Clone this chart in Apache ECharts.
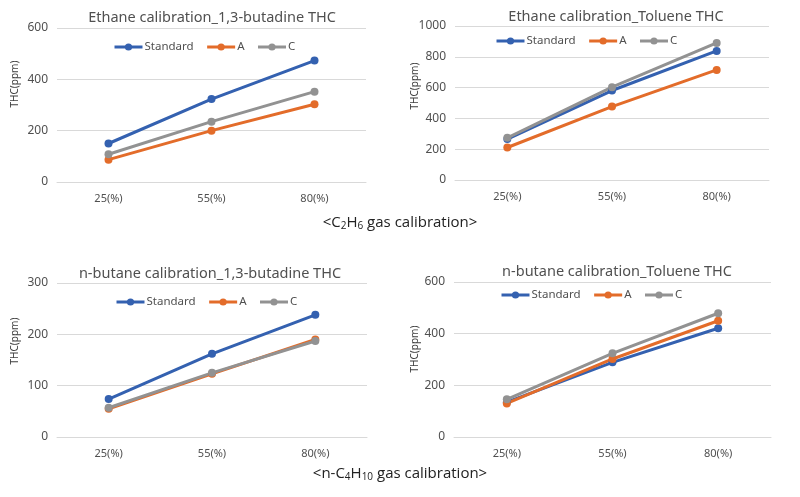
<!DOCTYPE html>
<html>
<head>
<meta charset="utf-8">
<script src="https://cdn.jsdelivr.net/npm/echarts@6/dist/echarts.min.js"></script>
<style>
  html, body { margin: 0; padding: 0; background: #fff; }
  #chart { width: 800px; height: 497px; }
</style>
</head>
<body>
<div id="chart"></div>
<script>
const categories = ['25(%)', '55(%)', '80(%)'];
const seriesNames = ['Standard', 'A', 'C'];
const colors = ['#3461B0', '#E36C2A', '#929292'];

// Ethane calibration
const ethButStd = [150, 323, 473];
const ethButA = [87, 200, 303];
const ethButC = [108, 235, 352];
const ethTolStd = [266, 581, 838];
const ethTolA = [211, 477, 715];
const ethTolC = [274, 603, 890];
// n-butane calibration
const butButStd = [74, 162, 238];
const butButA = [55, 123, 190];
const butButC = [57, 125, 187];
const butTolStd = [135, 289, 421];
const butTolA = [130, 302, 450];
const butTolC = [146, 324, 479];

const titles = [
  'Ethane calibration_1,3-butadine THC',
  'Ethane calibration_Toluene THC',
  'n-butane calibration_1,3-butadine THC',
  'n-butane calibration_Toluene THC'
];
const yMax = [600, 1000, 300, 600];
const yStep = [200, 200, 100, 200];
const panelData = [
  [ethButStd, ethButA, ethButC],
  [ethTolStd, ethTolA, ethTolC],
  [butButStd, butButA, butButC],
  [butTolStd, butTolA, butTolC]
];

// layout of the four panels
const grids = [
  { left: 57, top: 28, width: 309, height: 154 },
  { left: 455, top: 26, width: 314, height: 154 },
  { left: 57, top: 283, width: 310, height: 154 },
  { left: 454, top: 282, width: 317, height: 155 }
];
const titlePos = [[207, 5], [611, 4], [205, 261], [612, 259]];
const legendPos = [[113, 41], [495, 35], [115, 296], [500, 289]];
const yNamePos = [[15, 84], [415, 86], [15, 341], [415, 349]];

const font = 'Noto Sans';
const textColor = '#505050';

const chart = echarts.init(document.getElementById('chart'));

let option = {
  backgroundColor: '#fff',
  animation: false,
  textStyle: { fontFamily: font },
  title: [],
  legend: [],
  grid: [],
  xAxis: [],
  yAxis: [],
  series: [],
  graphic: []
};

for (let i = 0; i < 4; i++) {
  option.grid.push(grids[i]);
  option.title.push({
    text: titles[i],
    left: titlePos[i][0],
    top: titlePos[i][1],
    textAlign: 'center',
    textStyle: { fontFamily: font, fontSize: 14.5, fontWeight: 'normal', color: textColor }
  });
  option.legend.push({
    data: seriesNames,
    left: legendPos[i][0],
    top: legendPos[i][1],
    padding: 0,
    itemWidth: 28,
    itemHeight: 9,
    itemGap: 12,
    selectedMode: false,
    lineStyle: { width: 3 },
    textStyle: { fontFamily: font, fontSize: 11.5, color: textColor, padding: [0, 0, 0, -3] }
  });
  option.xAxis.push({
    type: 'category',
    gridIndex: i,
    data: categories,
    axisLine: { lineStyle: { color: '#d9d9d9' } },
    axisTick: { show: false },
    axisLabel: { fontFamily: font, fontSize: 11, color: textColor, margin: 11 }
  });
  option.yAxis.push({
    type: 'value',
    gridIndex: i,
    min: 0,
    max: yMax[i],
    interval: yStep[i],
    axisLine: { show: false },
    axisTick: { show: false },
    splitLine: { lineStyle: { color: '#d9d9d9' } },
    axisLabel: { fontFamily: font, fontSize: 12, color: textColor, margin: 9, formatter: v => String(v) }
  });
  for (let s = 0; s < 3; s++) {
    option.series.push({
      name: seriesNames[s],
      type: 'line',
      xAxisIndex: i,
      yAxisIndex: i,
      data: panelData[i][s],
      symbol: 'circle',
      symbolSize: 8,
      color: colors[s],
      lineStyle: { width: 3, color: colors[s] },
      itemStyle: { color: colors[s] }
    });
  }
  option.graphic.push({
    type: 'text',
    x: yNamePos[i][0],
    y: yNamePos[i][1],
    rotation: Math.PI / 2,
    style: {
      text: 'THC(ppm)',
      fontFamily: font,
      fontSize: 10,
      fill: '#404040',
      align: 'center',
      verticalAlign: 'middle'
    }
  });
}

// captions under each row
const captionRich = {
  sub: { fontFamily: 'Open Sans', fontSize: 10, fill: '#222', verticalAlign: 'middle', padding: [6, 0, 0, 0] }
};
const captions = [
  ['<C{sub|2}H{sub|6} gas calibration>', 223],
  ['<n-C{sub|4}H{sub|10} gas calibration>', 474]
];
captions.forEach(c => {
  option.graphic.push({
    type: 'text',
    x: 400,
    y: c[1],
    style: {
      text: c[0],
      rich: captionRich,
      fontFamily: 'Open Sans',
      fontSize: 15,
      fill: '#222',
      align: 'center',
      verticalAlign: 'middle'
    }
  });
});

chart.setOption(option);
</script>
</body>
</html>
